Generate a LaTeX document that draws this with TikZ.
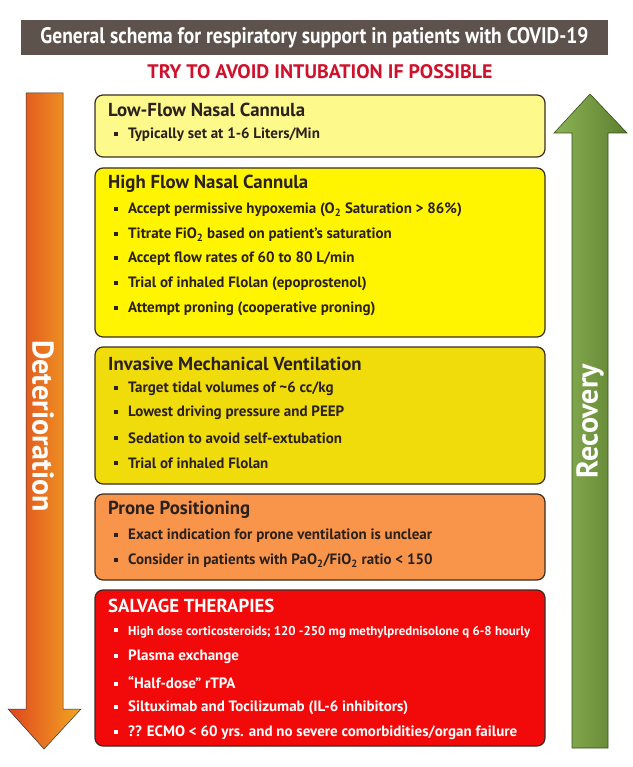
\documentclass[tikz,border=0pt]{standalone}
\usepackage{fontspec}
\setmainfont{PT Sans}
\usetikzlibrary{positioning}
\definecolor{barc}{HTML}{5E524D}
\definecolor{redt}{HTML}{D0112B}
\definecolor{cA}{HTML}{FDF98A}
\definecolor{cB}{HTML}{FFF500}
\definecolor{cC}{HTML}{F0DC0A}
\definecolor{cD}{HTML}{F8954A}
\definecolor{cE}{HTML}{F20A0A}
\definecolor{txt}{HTML}{2A201C}
\definecolor{edge}{HTML}{3A2E22}
\definecolor{orL}{HTML}{E0461E}
\definecolor{orR}{HTML}{F2A623}
\definecolor{grL}{HTML}{8CB356}
\definecolor{grR}{HTML}{5C7F2E}
\definecolor{grE}{HTML}{34501A}
\newcommand\bx{\makebox[14pt][l]{\rule[3pt]{4pt}{4pt}}}
\tikzset{
  box/.style={draw=edge, line width=1.2pt, rounded corners=8pt, minimum width=450pt, inner sep=0pt},
  btitle/.style={anchor=west, inner sep=0pt, font=\bfseries\fontsize{18.8}{20}\selectfont, text=txt},
  bline/.style={anchor=west, inner sep=0pt, font=\bfseries\fontsize{15}{16}\selectfont, text=txt},
  wline/.style={bline, text=white},
  arrtext/.style={text=white, inner sep=0pt, font=\bfseries\fontsize{30}{32}\selectfont},
}
\begin{document}
\begin{tikzpicture}[x=1pt,y=-1pt]
\useasboundingbox (0,0) rectangle (632,767);
\fill[white] (0,0) rectangle (632,767);
% title bar
\node[fill=barc, minimum width=587pt, minimum height=35pt, inner sep=0pt] (bar) at (314.5,38) {};
\node[text=white, inner sep=0pt] (title) at (bar.center) {\resizebox{548pt}{16pt}{\bfseries General schema for respiratory support in patients with COVID-19}};
\node[text=redt, inner sep=0pt] (sub) at (320,72) {\resizebox{345pt}{14pt}{\bfseries TRY TO AVOID INTUBATION IF POSSIBLE}};
% left arrow
\shade[left color=orL, right color=orR, draw=black!80, line width=0.5pt]
  (26,93) -- (63,93) -- (63,709) -- (81,709) -- (44,749) -- (8,709) -- (26,709) -- cycle;
\node[rotate=-90, arrtext] (det) at (43,426) {Deterioration};
% right arrow
\shade[left color=grL, right color=grR, draw=grE, line width=0.6pt]
  (572,748) -- (572,133) -- (554,133) -- (590,94) -- (627,133) -- (608,133) -- (608,748) -- cycle;
\node[rotate=90, arrtext] (rec) at (590,421) {Recovery};
% boxes
\node[box, fill=cA, minimum height=62pt] (b1) at (320,126) {};
\node[box, fill=cB, minimum height=169pt] (b2) at (320,252.5) {};
\node[box, fill=cC, minimum height=137pt] (b3) at (320,415.5) {};
\node[box, fill=cD, minimum height=86pt] (b4) at (320,537) {};
\node[box, fill=cE, minimum height=156pt] (b5) at (320,668) {};
% box 1
\node[btitle] (t1) at (108,110) {Low-Flow Nasal Cannula};
\node[bline] (l11) at (114,135) {\bx Typically set at 1-6 Liters/Min};
% box 2
\node[btitle] (t2) at (108,184) {High Flow Nasal Cannula};
\node[bline] (l21) at (114,210) {\bx Accept permissive hypoxemia (O\textsubscript{2} Saturation > 86\%)};
\node[bline] (l22) at (114,235) {\bx Titrate FiO\textsubscript{2} based on patient’s saturation};
\node[bline] (l23) at (114,259) {\bx Accept flow rates of 60 to 80 L/min};
\node[bline] (l24) at (114,284) {\bx Trial of inhaled Flolan (epoprostenol)};
\node[bline] (l25) at (114,309) {\bx Attempt proning (cooperative proning)};
% box 3
\node[btitle] (t3) at (108,364) {Invasive Mechanical Ventilation};
\node[bline] (l31) at (114,389) {\bx Target tidal volumes of \textasciitilde6 cc/kg};
\node[bline] (l32) at (114,413) {\bx Lowest driving pressure and PEEP};
\node[bline] (l33) at (114,438) {\bx Sedation to avoid self-extubation};
\node[bline] (l34) at (114,463) {\bx Trial of inhaled Flolan};
% box 4
\node[btitle] (t4) at (108,510) {Prone Positioning};
\node[bline] (l41) at (114,536) {\bx Exact indication for prone ventilation is unclear};
\node[bline] (l42) at (114,561) {\bx Consider in patients with PaO\textsubscript{2}/FiO\textsubscript{2} ratio < 150};
% box 5
\node[btitle, text=white] (t5) at (108,606) {SALVAGE THERAPIES};
\node[wline] (l51) at (114,632) {\bx\resizebox{402pt}{!}{\fontsize{13}{15}\selectfont High dose corticosteroids; 120 -250 mg methylprednisolone q 6-8 hourly}};
\node[wline] (l52) at (114,657) {\bx Plasma exchange};
\node[wline] (l53) at (114,683) {\bx “Half-dose” rTPA};
\node[wline] (l54) at (114,708) {\bx Siltuximab and Tocilizumab (IL-6 inhibitors)};
\node[wline] (l55) at (114,733) {\bx ?? ECMO < 60 yrs. and no severe comorbidities/organ failure};
\end{tikzpicture}
\end{document}
